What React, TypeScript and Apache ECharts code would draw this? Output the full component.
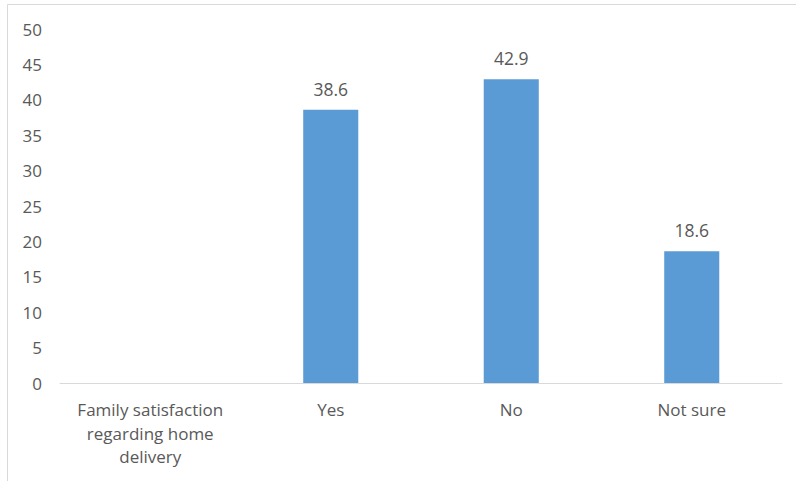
import React, { useEffect, useRef } from "react";
import * as echarts from "echarts";

const categories = ["Family satisfaction\nregarding home\ndelivery", "Yes", "No", "Not sure"];
const values: (number | null)[] = [null, 38.6, 42.9, 18.6];
const yMin = 0;
const yMax = 50;
const yInterval = 5;

export default function App() {
  const ref = useRef<HTMLDivElement>(null);
  useEffect(() => {
    if (!ref.current) return;
    const chart = echarts.init(ref.current, undefined, { renderer: "svg" });
    const font = "'Open Sans', 'Noto Sans', sans-serif";
    chart.setOption({
      animation: false,
      textStyle: { fontFamily: font },
      grid: { left: 60, right: 14, top: 29, bottom: 98, containLabel: false },
      graphic: [
        {
          type: "polyline",
          shape: { points: [[7.5, 481], [7.5, 4.5], [796, 4.5]] },
          style: { stroke: "#d9d9d9", lineWidth: 1, fill: "none" },
          silent: true,
        },
      ],
      xAxis: {
        type: "category",
        data: categories,
        axisLine: { show: true, lineStyle: { color: "#d9d9d9", width: 1 } },
        axisTick: { show: false },
        axisLabel: {
          color: "#595959",
          fontSize: 17,
          fontFamily: font,
          margin: 15,
          lineHeight: 23.5,
          interval: 0,
        },
      },
      yAxis: {
        type: "value",
        min: yMin,
        max: yMax,
        interval: yInterval,
        axisLine: { show: false },
        axisTick: { show: false },
        splitLine: { show: false },
        axisLabel: { color: "#595959", fontSize: 17, fontFamily: font, margin: 18 },
      },
      series: [
        {
          type: "bar",
          data: values,
          barWidth: "30.5%",
          itemStyle: { color: "#5b9bd5" },
          label: {
            show: true,
            position: "top",
            distance: 12,
            color: "#595959",
            fontSize: 17.5,
            fontFamily: font,
          },
        },
      ],
    });
    return () => chart.dispose();
  }, []);
  return (
    <div
      ref={ref}
      style={{ position: "fixed", left: 0, top: 0, width: 796, height: 481, background: "#fff" }}
    />
  );
}
